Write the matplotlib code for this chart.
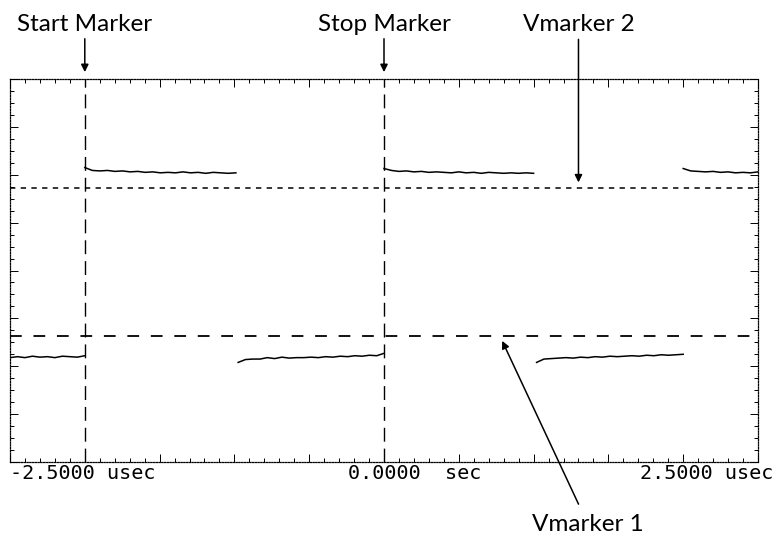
import numpy as np
from matplotlib import pyplot as plt

# time axis in usec, vertical axis in screen divisions
t_left, t_right = -2.5, 2.5
v_bottom, v_top = -4, 4

start_marker = -2.0
stop_marker = 0.0
vmarker1 = -1.37
vmarker2 = 1.72

# trace segments: (start usec, end usec, levels)
low1 = [-1.82, -1.80, -1.82, -1.79, -1.81, -1.80, -1.82, -1.79, -1.80, -1.81, -1.78]
high1 = [2.15, 2.09, 2.08, 2.09, 2.07, 2.08, 2.06, 2.07, 2.05, 2.06, 2.04,
         2.05, 2.04, 2.06, 2.04, 2.05, 2.03, 2.05, 2.04, 2.03, 2.04]
low2 = [-1.92, -1.86, -1.85, -1.85, -1.82, -1.84, -1.81, -1.83, -1.82, -1.82, -1.81,
        -1.82, -1.80, -1.81, -1.79, -1.80, -1.78, -1.79, -1.77, -1.78, -1.73]
high2 = [2.13, 2.09, 2.07, 2.08, 2.06, 2.07, 2.05, 2.06, 2.05, 2.04, 2.06,
         2.04, 2.05, 2.03, 2.05, 2.04, 2.03, 2.04, 2.03, 2.04, 2.03]
low3 = [-1.92, -1.85, -1.84, -1.83, -1.82, -1.83, -1.81, -1.82, -1.80, -1.81, -1.79,
        -1.80, -1.79, -1.78, -1.79, -1.77, -1.78, -1.76, -1.77, -1.76, -1.75]
high3 = [2.13, 2.08, 2.07, 2.06, 2.07, 2.05, 2.06, 2.04, 2.05, 2.04, 2.06]

segments = [(-2.5, -2.0, low1), (-2.0, -0.99, high1), (-0.975, 0.0, low2),
            (0.0, 1.0, high2), (1.02, 2.0, low3), (2.0, 2.5, high3)]

vmarker2_arrow_t = 1.30
vmarker1_arrow_t = 0.79

fig = plt.figure(figsize=(7.77, 5.42), dpi=100)
ax = fig.add_axes([10 / 777, 1 - 462 / 542, 748 / 777, 383 / 542])
ax.set_xlim(t_left, t_right)
ax.set_ylim(v_bottom, v_top)

for t0, t1, levels in segments:
    ax.plot(np.linspace(t0, t1, len(levels)), levels, c='black', lw=1.1)

ax.axvline(start_marker, c='black', lw=1.0, dashes=(10, 5))
ax.axvline(stop_marker, c='black', lw=1.0, dashes=(10, 5))
ax.axhline(vmarker1, c='black', lw=1.3, dashes=(6.5, 6.5))
ax.axhline(vmarker2, c='black', lw=1.1, dashes=(3.5, 3.5))

# graticule: dotted frame with inward ticks
for s in ax.spines.values():
    s.set_linestyle((0, (1, 1.2)))
    s.set_linewidth(0.9)
ax.set_xticks(np.arange(-2.5, 2.51, 0.5))
ax.set_xticks(np.arange(-2.5, 2.51, 0.1), minor=True)
ax.set_yticks(np.arange(-4, 4.1, 1))
ax.set_yticks(np.arange(-4, 4.1, 0.25), minor=True)
ax.tick_params(which='both', direction='in', top=True, right=True,
               labelbottom=False, labelleft=False, width=0.7)
ax.tick_params(which='major', length=6)
ax.tick_params(which='minor', length=3)

mono = dict(family='DejaVu Sans Mono', fontsize=14.5, va='center')
ax.text(0.0, -0.03, "-2.5000 usec", transform=ax.transAxes, ha='left', **mono)
ax.text(0.452, -0.03, "0.0000  sec", transform=ax.transAxes, ha='left', **mono)
ax.text(1.021, -0.03, "2.5000 usec", transform=ax.transAxes, ha='right', **mono)

label = dict(family='Lato', fontsize=17.5, ha='center', va='bottom')
arrow = dict(arrowstyle='-|>', lw=1.1, color='black', mutation_scale=11,
             shrinkA=1, shrinkB=0)
ax.annotate("Start Marker", xy=(start_marker, 1.018), xycoords=('data', 'axes fraction'),
            xytext=(0, 27), textcoords='offset points', arrowprops=arrow, **label)
ax.annotate("Stop Marker", xy=(stop_marker, 1.018), xycoords=('data', 'axes fraction'),
            xytext=(0, 27), textcoords='offset points', arrowprops=arrow, **label)
ax.annotate("Vmarker 2", xy=(vmarker2_arrow_t, vmarker2 + 0.12), xycoords='data',
            xytext=(0, 106), textcoords='offset points', arrowprops=arrow, **label)
ax.annotate("Vmarker 1", xy=(vmarker1_arrow_t, vmarker1 - 0.1), xycoords='data',
            xytext=(62, -125), textcoords='offset points',
            arrowprops=dict(arrow, shrinkA=6),
            family='Lato', fontsize=17.5, ha='center', va='top')

plt.savefig("out.png", dpi=100)
